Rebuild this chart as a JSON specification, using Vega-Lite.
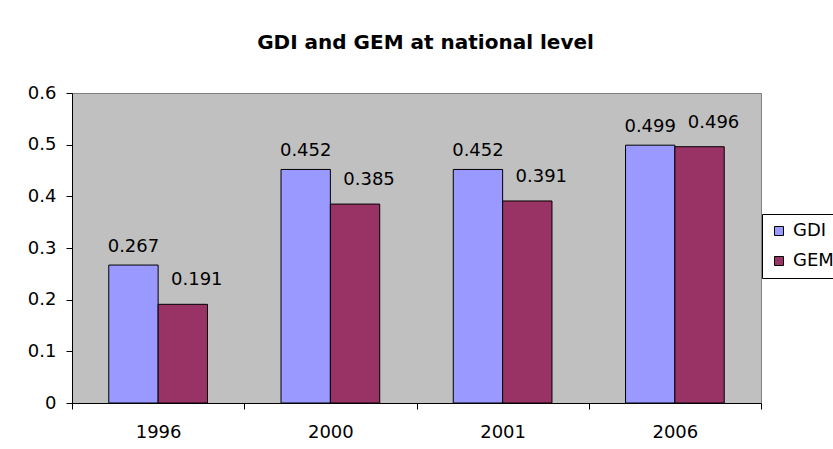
{
  "$schema": "https://vega.github.io/schema/vega-lite/v6.json",
  "width": 689,
  "height": 310,
  "autosize": {"type": "none"},
  "padding": {"left": 72, "top": 93, "right": 72, "bottom": 46},
  "background": "white",
  "title": {
    "text": "GDI and GEM at national level",
    "font": "DejaVu Sans",
    "fontSize": 20,
    "fontWeight": "bold",
    "color": "black",
    "anchor": "middle",
    "frame": "group",
    "baseline": "alphabetic",
    "offset": 15,
    "dx": 9
  },
  "config": {
    "view": {"fill": "#C0C0C0", "stroke": "#808080", "strokeWidth": 1},
    "font": "DejaVu Sans"
  },
  "data": {
    "values": [
      {"year": "1996", "index": "GDI", "value": 0.267},
      {"year": "1996", "index": "GEM", "value": 0.191},
      {"year": "2000", "index": "GDI", "value": 0.452},
      {"year": "2000", "index": "GEM", "value": 0.385},
      {"year": "2001", "index": "GDI", "value": 0.452},
      {"year": "2001", "index": "GEM", "value": 0.391},
      {"year": "2006", "index": "GDI", "value": 0.499},
      {"year": "2006", "index": "GEM", "value": 0.496}
    ]
  },
  "layer": [
    {
      "mark": {"type": "bar", "stroke": "black", "strokeWidth": 1},
      "encoding": {
        "x": {
          "field": "year",
          "type": "nominal",
          "scale": {"paddingInner": 0, "paddingOuter": 0},
          "axis": {
            "title": null,
            "labelAngle": 0,
            "tickBand": "extent",
            "tickSize": 6,
            "labelPadding": 14,
            "labelFontSize": 18,
            "labelFont": "DejaVu Sans",
            "labelColor": "black",
            "domainColor": "black",
            "tickColor": "black",
            "grid": false
          }
        },
        "xOffset": {
          "field": "index",
          "type": "nominal",
          "sort": ["GDI", "GEM"],
          "scale": {"paddingInner": 0, "paddingOuter": 0.745}
        },
        "y": {
          "field": "value",
          "type": "quantitative",
          "scale": {"domain": [0, 0.6], "nice": false},
          "axis": {
            "title": null,
            "values": [0, 0.1, 0.2, 0.3, 0.4, 0.5, 0.6],
            "format": "~g",
            "tickSize": 6,
            "labelPadding": 10,
            "labelFontSize": 18,
            "labelFont": "DejaVu Sans",
            "labelColor": "black",
            "domainColor": "black",
            "tickColor": "black",
            "grid": false
          }
        },
        "color": {
          "field": "index",
          "type": "nominal",
          "scale": {"domain": ["GDI", "GEM"], "range": ["#9999FF", "#993366"]},
          "legend": {
            "title": null,
            "orient": "none",
            "legendX": 690,
            "legendY": 121,
            "strokeColor": "black",
            "fillColor": "white",
            "padding": 8,
            "symbolType": "square",
            "symbolSize": 81,
            "symbolStrokeColor": "black",
            "symbolStrokeWidth": 1,
            "labelFontSize": 18,
            "labelFont": "DejaVu Sans",
            "labelColor": "black",
            "rowPadding": 12,
            "labelOffset": 5
          }
        }
      }
    },
    {
      "transform": [{"filter": "datum.index == 'GDI'"}],
      "mark": {"type": "text", "baseline": "alphabetic", "dy": -13, "fontSize": 18, "font": "DejaVu Sans", "color": "black"},
      "encoding": {
        "x": {"field": "year", "type": "nominal"},
        "xOffset": {"field": "index", "type": "nominal", "sort": ["GDI", "GEM"]},
        "y": {"field": "value", "type": "quantitative"},
        "text": {"field": "value", "type": "quantitative", "format": ".3f"}
      }
    },
    {
      "transform": [{"filter": "datum.index == 'GEM'"}],
      "mark": {"type": "text", "baseline": "alphabetic", "dx": 14, "dy": -19, "fontSize": 18, "font": "DejaVu Sans", "color": "black"},
      "encoding": {
        "x": {"field": "year", "type": "nominal"},
        "xOffset": {"field": "index", "type": "nominal", "sort": ["GDI", "GEM"]},
        "y": {"field": "value", "type": "quantitative"},
        "text": {"field": "value", "type": "quantitative", "format": ".3f"}
      }
    }
  ]
}
